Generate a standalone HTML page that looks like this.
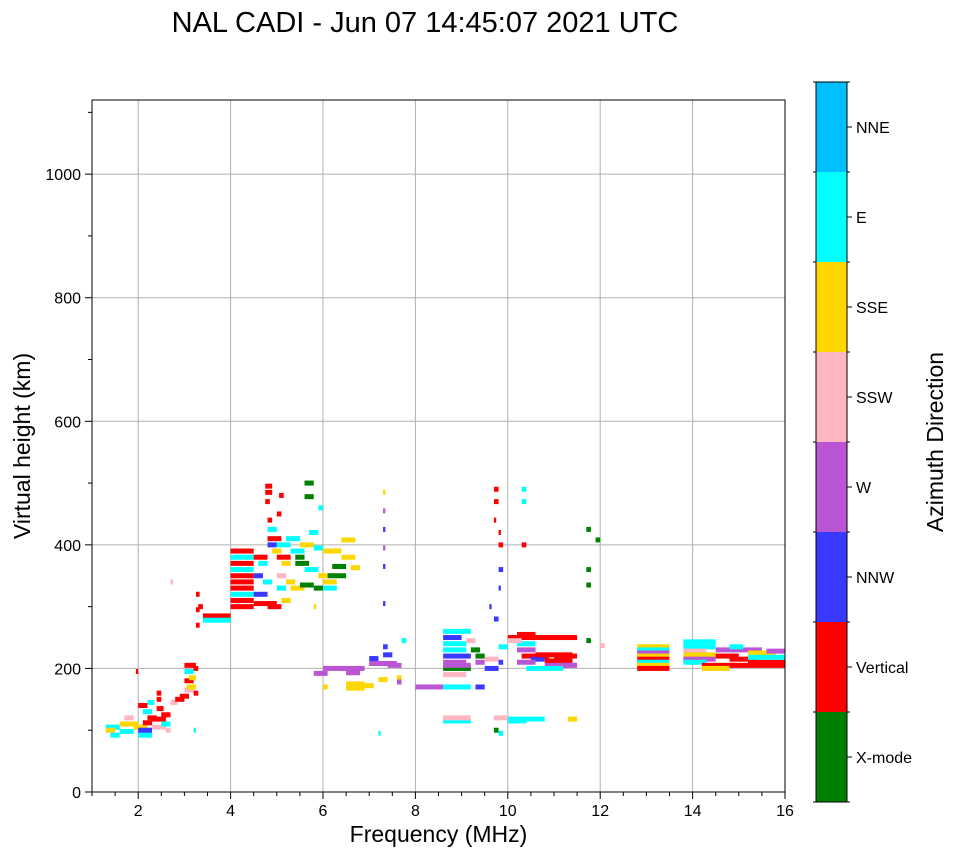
<!DOCTYPE html>
<html><head><meta charset="utf-8"><style>
body{margin:0;background:#fff;}
svg{font-family:"Liberation Sans",sans-serif;}
</style></head><body>
<svg id="chart" width="958" height="857" xmlns="http://www.w3.org/2000/svg">
<text x="425" y="32" font-size="29" text-anchor="middle">NAL CADI - Jun 07 14:45:07 2021 UTC</text>
<g id="grid"></g>
<g id="marks"></g>
<g id="axes"></g>
<g id="cbar"></g>
</svg>
<script>
const dirLabels=["X-mode","Vertical","NNW","W","SSW","SSE","E","NNE"];
const dirColors=["#008000","#ff0000","#3a3aff","#ba55d3","#ffb6c1","#ffd700","#00ffff","#00bfff"];
const xTicks=[2,4,6,8,10,12,14,16];
const yTicks=[0,200,400,600,800,1000];
// echoes: start frequency (MHz), virtual height (km), frequency span (MHz), direction index
const freqs=[1.3,1.3,1.4,1.6,1.6,1.7,1.9,2.0,2.0,2.1,2.1,2.2,2.3,2.3,2.4,2.4,2.5,2.5,2.0,2.2,2.4,2.6,1.95,2.7,
2.8,2.9,3.0,3.0,3.0,3.0,3.1,3.05,3.2,3.2,2.7,3.25,3.25,3.25,3.2,
3.4,3.4,3.3,
4.0,4.0,4.0,4.0,4.0,4.0,4.0,4.0,4.0,4.0,4.5,4.5,4.5,4.5,4.6,
4.75,4.75,4.75,4.8,4.8,4.8,4.8,4.9,5.0,5.0,5.1,5.2,5.3,5.4,5.4,5.6,5.6,5.5,5.2,5.0,5.3,5.5,5.0,5.1,5.0,5.05,5.7,5.8,5.9,5.8,4.7,5.6,5.9,4.8,5.8,
6.0,6.2,6.1,6.0,6.0,6.4,6.4,6.6,
6.0,5.8,6.5,6.5,6.5,6.9,7.0,7.0,7.3,7.3,7.4,7.6,7.6,6.0,7.2,7.7,7.3,7.3,7.3,7.3,7.3,7.3,7.2,
8.0,8.6,8.6,8.6,8.6,8.6,8.6,8.6,8.6,8.6,8.6,8.6,8.6,9.2,9.3,9.3,9.3,9.1,9.5,9.5,
9.7,9.7,9.7,9.8,9.8,9.8,9.8,9.6,9.7,10.3,10.3,10.3,11.7,11.9,11.7,11.7,
10.0,10.2,10.5,10.2,10.0,10.2,10.3,10.5,10.6,10.8,10.8,11.0,10.4,10.2,9.8,9.8,9.7,10.0,10.0,11.3,11.2,9.7,9.8,11.7,12.0,
12.8,12.8,12.8,12.8,12.8,12.8,12.8,12.8,
13.8,13.8,13.8,13.8,13.8,13.8,14.2,14.5,14.8,14.5,14.8,14.8,15.2,15.2,15.6,15.2,14.2];
const heights=[105,100,92,98,110,120,105,92,100,112,130,120,118,105,135,150,125,110,140,145,160,100,195,145,
150,155,165,180,195,205,185,170,160,200,340,320,295,270,100,
285,278,300,
390,380,370,360,350,340,330,320,310,300,305,320,350,380,370,
495,485,470,440,425,410,400,390,400,380,370,410,390,380,370,500,478,400,340,330,330,335,350,310,450,480,420,395,460,330,340,360,350,300,300,
390,365,350,340,330,380,408,363,
200,192,193,175,168,172,208,216,222,235,205,185,178,170,182,245,485,455,425,395,365,305,95,
170,170,260,250,240,230,220,210,200,205,190,115,120,230,220,210,170,245,215,200,
490,470,440,420,400,360,330,300,280,400,470,490,425,408,360,335,
250,255,250,240,245,230,220,215,222,212,205,220,200,210,235,210,120,118,115,118,205,100,95,245,237,
235,230,225,220,215,210,205,200,
243,235,228,222,215,210,205,230,235,220,215,205,210,225,228,218,200];
const spans=[.3,.2,.2,.3,.4,.2,.3,.3,.3,.2,.2,.2,.3,.3,.15,.1,.2,.2,.2,.15,.1,.1,.05,.15,
.2,.2,.2,.2,.2,.25,.15,.2,.1,.1,.05,.08,.08,.08,.05,
.6,.6,.1,
.5,.5,.5,.5,.5,.5,.5,.5,.5,.5,.5,.3,.2,.3,.2,
.15,.15,.1,.1,.2,.3,.2,.2,.3,.3,.2,.3,.3,.2,.3,.2,.2,.3,.2,.2,.3,.3,.2,.2,.1,.1,.2,.2,.1,.2,.2,.3,.2,.3,.05,
.4,.3,.4,.3,.3,.3,.3,.2,
.9,.3,.3,.4,.4,.2,.6,.2,.2,.1,.3,.1,.1,.1,.2,.1,.05,.05,.05,.05,.05,.05,.05,
.6,.6,.6,.4,.5,.5,.6,.5,.6,.6,.5,.6,.6,.2,.2,.2,.2,.2,.3,.3,
.1,.1,.05,.05,.1,.1,.05,.05,.1,.1,.1,.1,.1,.1,.1,.1,
.6,.4,1.0,.4,.3,.4,.6,.3,.8,.6,.5,.5,.8,.4,.2,.1,.3,.8,.4,.2,.3,.1,.1,.1,.1,
.7,.7,.7,.7,.7,.7,.7,.7,
.7,.7,.5,.7,.7,.5,.7,1.0,.3,.5,.6,1.2,.8,.6,.4,.8,.6];
const dirs=[6,5,6,6,5,4,5,6,2,1,6,1,1,4,1,1,1,6,1,6,1,4,1,4,
1,1,4,1,6,1,5,5,1,1,4,1,1,1,6,
1,6,1,
1,6,1,6,1,1,1,6,1,1,1,2,2,1,6,
1,1,1,1,6,1,2,5,6,1,5,6,6,0,0,0,0,5,5,6,5,0,4,5,1,1,6,6,6,0,6,6,5,1,5,
5,0,0,5,6,5,5,5,
3,3,3,5,5,5,3,2,2,2,3,5,3,5,5,6,5,3,2,3,2,2,6,
3,6,6,2,6,6,2,3,0,3,4,6,4,0,0,3,2,4,4,2,
1,1,1,1,1,2,2,2,2,1,6,6,0,0,0,0,
1,1,1,6,4,3,1,2,1,1,3,1,6,3,6,2,4,6,6,5,3,0,6,0,4,
5,6,3,5,1,6,5,1,
6,6,4,5,3,6,1,3,6,1,1,1,1,5,3,6,5];

const L=92,R=785,T=100,B=792,XMIN=1,XMAX=16,YMIN=0,YMAX=1120;
const xs=v=>L+(v-XMIN)/(XMAX-XMIN)*(R-L);
const ys=v=>B-(v-YMIN)/(YMAX-YMIN)*(B-T);
const NS="http://www.w3.org/2000/svg";
function mk(tag,attrs,parent,text){const e=document.createElementNS(NS,tag);for(const k in attrs)e.setAttribute(k,attrs[k]);if(text!==undefined)e.textContent=text;parent.appendChild(e);return e;}
const grid=document.getElementById('grid'),marks=document.getElementById('marks'),axes=document.getElementById('axes'),cbar=document.getElementById('cbar');

xTicks.forEach(t=>{const g=mk('line',{x1:xs(t),x2:xs(t),y1:T,y2:B,stroke:'#b0b0b0','stroke-width':1},grid);

});
yTicks.forEach(t=>{const g=mk('line',{x1:L,x2:R,y1:ys(t),y2:ys(t),stroke:'#b0b0b0','stroke-width':1},grid);

});

for(let i=0;i<freqs.length;i++){
  const x0=xs(freqs[i]),x1=xs(freqs[i]+spans[i]);
  const r=mk('rect',{x:x0,y:ys(heights[i])-2.5,width:Math.max(2,x1-x0),height:5,fill:dirColors[dirs[i]]},marks);
  
  
}

const frame=mk('rect',{x:L,y:T,width:R-L,height:B-T,fill:'none',stroke:'#000','stroke-width':1},axes);


for(let v=1;v<=16;v+=0.5){const major=xTicks.includes(v);mk('line',{x1:xs(v),x2:xs(v),y1:B,y2:B+(major?7:4),stroke:'#000'},axes);}
xTicks.forEach(t=>{const e=mk('text',{x:xs(t),y:B+24,'font-size':16,'text-anchor':'middle'},axes,String(t));

});
for(let v=0;v<=1100;v+=100){const major=yTicks.includes(v);mk('line',{x1:L,x2:L-(major?7:4),y1:ys(v),y2:ys(v),stroke:'#000'},axes);}
yTicks.forEach(t=>{const e=mk('text',{x:L-11,y:ys(t)+6,'font-size':16,'text-anchor':'end'},axes,String(t));

});
const xt=mk('text',{x:(L+R)/2,y:842,'font-size':23,'text-anchor':'middle'},axes,'Frequency (MHz)');


const yt=mk('text',{x:30,y:(T+B)/2,'font-size':23,'text-anchor':'middle',transform:'rotate(-90 30 '+(T+B)/2+')'},axes,'Virtual height (km)');



const CX=816,CW=31,CT=82,CB=802,seg=(CB-CT)/dirLabels.length;
dirLabels.forEach((lab,i)=>{
  const y0=CB-(i+1)*seg;
  const r=mk('rect',{x:CX,y:y0,width:CW,height:seg,fill:dirColors[i]},cbar);
  
  
  mk('line',{x1:CX+CW,x2:CX+CW+5,y1:y0+seg/2,y2:y0+seg/2,stroke:'#000'},cbar);
  const t=mk('text',{x:CX+CW+9,y:y0+seg/2+6,'font-size':16},cbar,lab);
  
  
});
for(let i=0;i<=dirLabels.length;i++){const y=CB-i*seg;mk('line',{x1:CX+CW,x2:CX+CW+3,y1:y,y2:y,stroke:'#000'},cbar);mk('line',{x1:CX,x2:CX-3,y1:y,y2:y,stroke:'#000'},cbar);}
const cf=mk('rect',{x:CX,y:CT,width:CW,height:CB-CT,fill:'none',stroke:'#000'},cbar);


const ct=mk('text',{x:943,y:442,'font-size':23,'text-anchor':'middle',transform:'rotate(-90 943 442)'},cbar,'Azimuth Direction');


</script>
</body></html>
